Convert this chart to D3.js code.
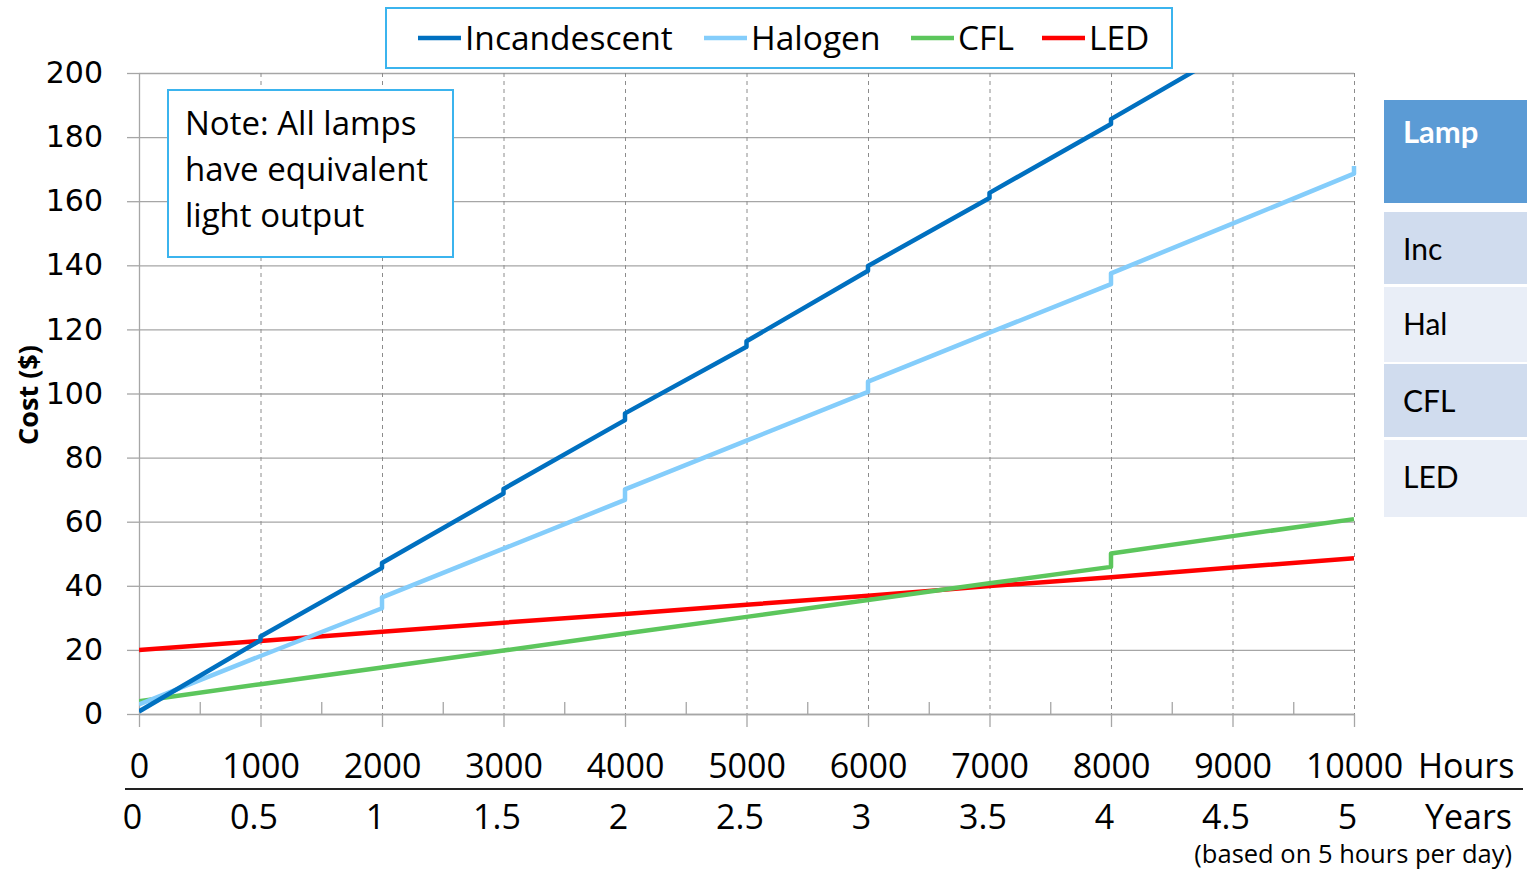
<!DOCTYPE html>
<html>
<head>
<meta charset="utf-8">
<script src="https://cdn.jsdelivr.net/npm/d3@7"></script>
<style>
  body { margin: 0; background: #fff; }
  svg { display: block; }
  .cal { font-family: "Open Sans", "DejaVu Sans Condensed", sans-serif; }
</style>
</head>
<body>
<div id="chart"></div>
<script>
// canvas size
var w = 1527;
var h = 871;

// data: [hours, cost $]; repeated hours = lamp replacement step
var incandescent = [[0, 0.8], [1000, 23.0], [1000, 24.2], [2000, 45.6], [2000, 47.1], [3000, 68.8], [3000, 70.2],
  [4000, 91.7], [4000, 93.8], [5000, 114.6], [5000, 116.3], [6000, 138.3], [6000, 139.8], [7000, 161.0],
  [7000, 162.6], [8000, 184.1], [8000, 185.6], [9000, 207.5], [9000, 209.0], [10000, 231.0]];
var halogen = [[0, 3.0], [1000, 18.1], [2000, 33.0], [2000, 36.4], [3000, 51.6], [4000, 66.8], [4000, 70.1],
  [5000, 85.3], [6000, 100.5], [6000, 103.7], [7000, 119.0], [8000, 134.1], [8000, 137.5], [9000, 153.0],
  [10000, 168.6], [10000, 171.0]];
var cfl = [[0, 4.0], [1000, 9.3], [2000, 14.5], [3000, 19.8], [4000, 25.1], [5000, 30.3], [6000, 35.6],
  [7000, 40.8], [8000, 45.9], [8000, 50.1], [9000, 55.5], [10000, 60.8]];
var led = [[0, 20.0], [1000, 22.8], [2000, 25.7], [3000, 28.5], [4000, 31.2], [5000, 34.1], [6000, 36.9],
  [7000, 39.9], [8000, 42.7], [9000, 45.7], [10000, 48.6]];

var seriesNames = ["Incandescent", "Halogen", "CFL", "LED"];
var seriesColors = ["#0070c0", "#84cdfb", "#5cc65c", "#ff0000"];
var seriesData = [incandescent, halogen, cfl, led];

var costTicks = [0, 20, 40, 60, 80, 100, 120, 140, 160, 180, 200];
var hourTicks = [0, 1000, 2000, 3000, 4000, 5000, 6000, 7000, 8000, 9000, 10000];
var minorHourTicks = [500, 1500, 2500, 3500, 4500, 5500, 6500, 7500, 8500, 9500];
var yearTicks = [0, 0.5, 1, 1.5, 2, 2.5, 3, 3.5, 4, 4.5, 5];
var tableHeader = "Lamp";
var tableRows = ["Inc", "Hal", "CFL", "LED"];
var noteLines = ["Note: All lamps", "have equivalent", "light output"];

// plot area
var plotL = 139, plotR = 1354, plotT = 73, plotB = 714;

var svg = d3.select("#chart")
  .append("svg")
  .attr("width", w)
  .attr("height", h);

var xScale = d3.scaleLinear().domain([0, 10000]).range([plotL, plotR]);
var yScale = d3.scaleLinear().domain([0, 200]).range([plotB, plotT]);
var yearScale = d3.scaleLinear().domain([0, 5]).range([plotL - 7, plotR - 7]);

// horizontal gridlines
svg.append("g")
  .attr("transform", "translate(" + plotL + ",0)")
  .call(d3.axisLeft(yScale).tickValues(costTicks).tickSize(-(plotR - plotL)).tickFormat(""))
  .call(g => g.select(".domain").remove())
  .call(g => g.selectAll("line").attr("stroke", "#a6a6a6").attr("stroke-width", 1.3));

// vertical dashed gridlines
svg.append("g")
  .attr("transform", "translate(0," + plotT + ")")
  .call(d3.axisBottom(xScale).tickValues(hourTicks.slice(1)).tickSize(plotB - plotT).tickFormat(""))
  .call(g => g.select(".domain").remove())
  .call(g => g.selectAll("line").attr("stroke", "#8c8c8c").attr("stroke-width", 1).attr("stroke-dasharray", "4,4"));

// y axis with labels
var yAxisG = svg.append("g")
  .attr("transform", "translate(" + plotL + ",0)")
  .call(d3.axisLeft(yScale).tickValues(costTicks).tickSize(12).tickPadding(24).tickSizeOuter(0));
yAxisG.select(".domain").attr("stroke", "#a6a6a6").attr("stroke-width", 1.3);
yAxisG.selectAll("line").attr("stroke", "#a6a6a6").attr("stroke-width", 1.3);
yAxisG.selectAll("text")
  .attr("fill", "#000")
  .style("font-family", "'DejaVu Sans', Verdana, sans-serif")
  .style("font-size", "30px");

// x axis: major ticks below, minor ticks above
var xAxisG = svg.append("g")
  .attr("transform", "translate(0," + plotB + ")")
  .call(d3.axisBottom(xScale).tickValues(hourTicks).tickSize(13).tickSizeOuter(0).tickFormat(""));
xAxisG.select(".domain").attr("stroke", "#a6a6a6").attr("stroke-width", 1.3);
xAxisG.selectAll("line").attr("stroke", "#a6a6a6").attr("stroke-width", 1.3);

svg.append("g")
  .attr("transform", "translate(0," + plotB + ")")
  .call(d3.axisBottom(xScale).tickValues(minorHourTicks).tickSize(-12).tickFormat(""))
  .call(g => g.select(".domain").remove())
  .call(g => g.selectAll("line").attr("stroke", "#a6a6a6").attr("stroke-width", 1.3));

// hour labels
var hourG = svg.append("g")
  .attr("transform", "translate(0,778)")
  .call(d3.axisBottom(xScale).tickValues(hourTicks).tickSize(0).tickPadding(0).tickFormat(d3.format("d")));
hourG.select(".domain").remove();
hourG.selectAll("text")
  .attr("y", 0).attr("dy", 0)
  .attr("class", "cal")
  .attr("fill", "#000")
  .style("font-size", "34px");

svg.append("text")
  .attr("class", "cal")
  .attr("x", 1418).attr("y", 778)
  .style("font-size", "34px")
  .text("Hours");

// separator line between the two scales
svg.append("line")
  .attr("x1", 125).attr("x2", 1523)
  .attr("y1", 789).attr("y2", 789)
  .attr("stroke", "#222").attr("stroke-width", 2.2);

// year labels
var yearG = svg.append("g")
  .attr("transform", "translate(0,829)")
  .call(d3.axisBottom(yearScale).tickValues(yearTicks).tickSize(0).tickPadding(0).tickFormat(d => String(d)));
yearG.select(".domain").remove();
yearG.selectAll("text")
  .attr("y", 0).attr("dy", 0)
  .attr("class", "cal")
  .attr("fill", "#000")
  .style("font-size", "34px");

svg.append("text")
  .attr("class", "cal")
  .attr("x", 1512).attr("y", 829)
  .attr("text-anchor", "end")
  .style("font-size", "34px")
  .text("Years");

svg.append("text")
  .attr("class", "cal")
  .attr("x", 1512).attr("y", 863)
  .attr("text-anchor", "end")
  .style("font-size", "25.5px")
  .text("(based on 5 hours per day)");

// y axis title
svg.append("text")
  .attr("class", "cal")
  .attr("transform", "translate(38,395) rotate(-90)")
  .attr("text-anchor", "middle")
  .style("font-size", "27px")
  .style("font-weight", "bold")
  .text("Cost ($)");

// series lines, clipped to plot area
svg.append("clipPath").attr("id", "plotClip")
  .append("rect")
  .attr("x", plotL).attr("y", plotT)
  .attr("width", plotR - plotL + 3).attr("height", plotB - plotT + 5);

var line = d3.line()
  .x(d => xScale(d[0]))
  .y(d => yScale(d[1]));

svg.append("g")
  .attr("clip-path", "url(#plotClip)")
  .selectAll("path")
  .data(seriesData.slice().reverse())
  .join("path")
  .attr("d", line)
  .attr("fill", "none")
  .attr("stroke", (d, i) => seriesColors[seriesData.length - 1 - i])
  .attr("stroke-width", 4.5)
  .attr("stroke-linejoin", "round");

// legend
svg.append("rect")
  .attr("x", 386).attr("y", 8)
  .attr("width", 786).attr("height", 60)
  .attr("fill", "#fff")
  .attr("stroke", "#3bb4ee").attr("stroke-width", 2);

var legendX = [418, 704, 911, 1042];
var legendItem = svg.append("g").selectAll("g")
  .data(seriesNames)
  .join("g")
  .attr("transform", (d, i) => "translate(" + legendX[i] + ",38)");
legendItem.append("line")
  .attr("x1", 0).attr("x2", 43)
  .attr("stroke", (d, i) => seriesColors[i])
  .attr("stroke-width", 4.5);
legendItem.append("text")
  .attr("class", "cal")
  .attr("x", 47).attr("y", 12)
  .style("font-size", "33.5px")
  .text(d => d);

// note box
svg.append("rect")
  .attr("x", 168).attr("y", 90)
  .attr("width", 285).attr("height", 167)
  .attr("fill", "#fff")
  .attr("stroke", "#3bb4ee").attr("stroke-width", 2);
svg.append("g").selectAll("text")
  .data(noteLines)
  .join("text")
  .attr("class", "cal")
  .attr("x", 185)
  .attr("y", (d, i) => 135 + i * 46)
  .style("font-size", "33px")
  .text(d => d);

// side table
var rowTops = [212, 287, 364, 440];
var rowHeights = [72, 75, 73, 77];
svg.append("rect")
  .attr("x", 1384).attr("y", 100)
  .attr("width", 143).attr("height", 103)
  .attr("fill", "#5b9bd5");
svg.append("text")
  .attr("x", 1403).attr("y", 143)
  .attr("fill", "#fff")
  .style("font-family", "Lato, 'Noto Sans', sans-serif")
  .style("font-weight", "bold")
  .style("font-size", "31px")
  .text(tableHeader);
var rowG = svg.append("g").selectAll("g")
  .data(tableRows)
  .join("g");
rowG.append("rect")
  .attr("x", 1384)
  .attr("y", (d, i) => rowTops[i])
  .attr("width", 143)
  .attr("height", (d, i) => rowHeights[i])
  .attr("fill", (d, i) => i % 2 === 0 ? "#d0dcee" : "#e9eef7");
rowG.append("text")
  .attr("x", 1403)
  .attr("y", (d, i) => rowTops[i] + 48)
  .attr("fill", "#000")
  .style("font-family", "Lato, 'Noto Sans', sans-serif")
  .style("font-size", "30px")
  .text(d => d);
</script>
</body>
</html>
